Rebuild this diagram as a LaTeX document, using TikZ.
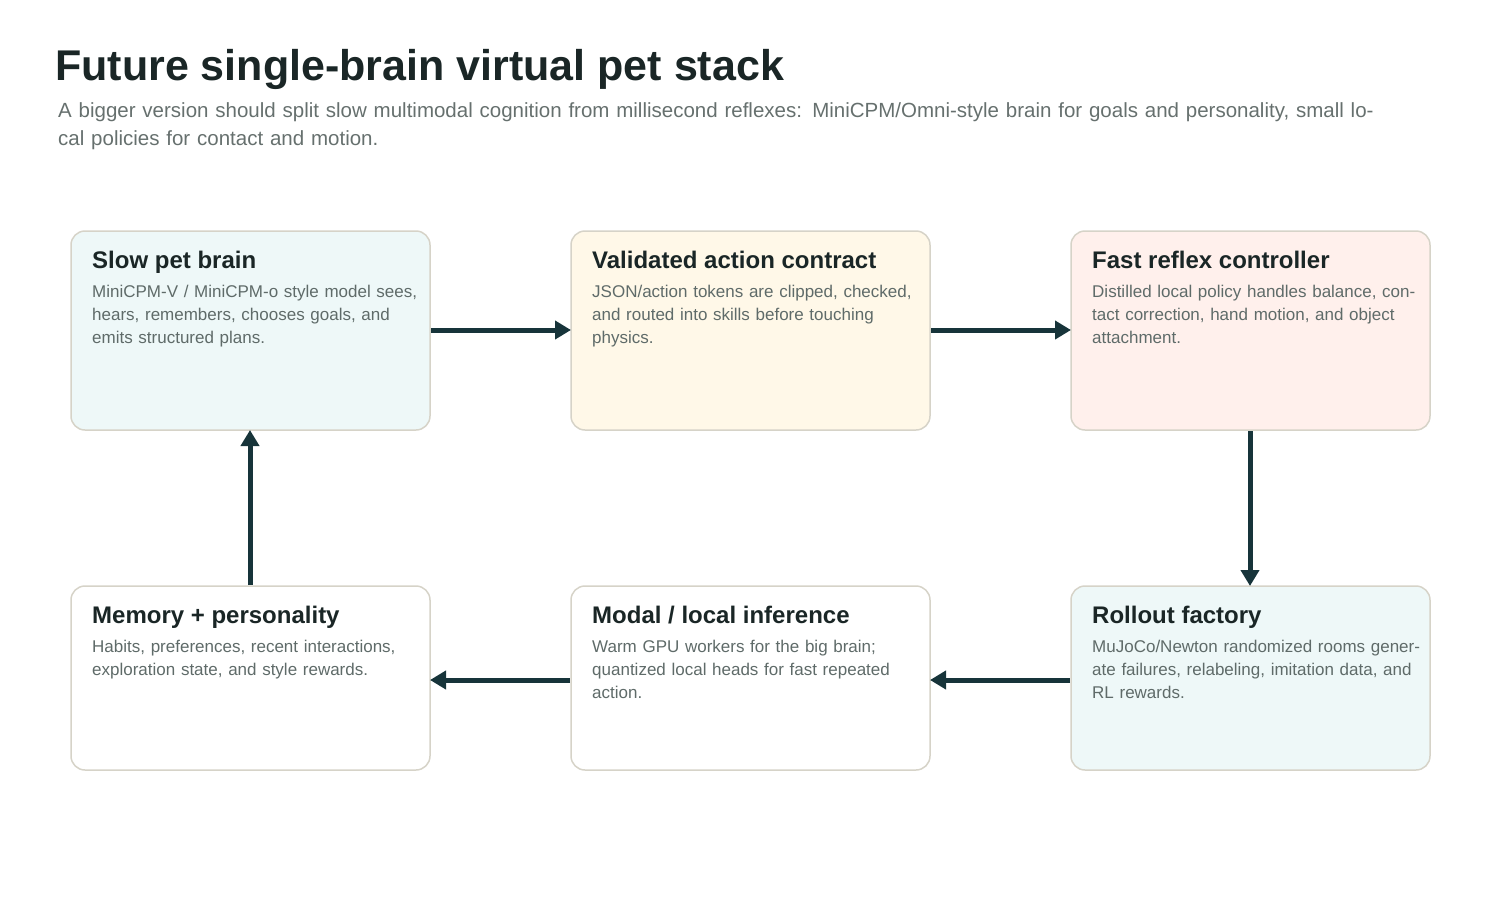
\documentclass[tikz,border=0pt]{standalone}
\usepackage{fontspec}
\setmainfont{Liberation Sans}
\usetikzlibrary{arrows.meta}
\definecolor{ink}{HTML}{1A2626}
\definecolor{sub}{HTML}{66706E}
\definecolor{body}{HTML}{5F6B69}
\definecolor{edge}{HTML}{D6D3C8}
\definecolor{arr}{HTML}{17343A}
\definecolor{fteal}{HTML}{EEF8F8}
\definecolor{fcream}{HTML}{FFF8E8}
\definecolor{frose}{HTML}{FFF0EC}
\begin{document}
\begin{tikzpicture}[x=1pt,y=-1pt,
 box/.style={draw=edge,line width=1.5pt,rounded corners=14pt},
 head/.style={anchor=north west,inner sep=0pt,font=\fontsize{24}{28}\selectfont\bfseries,text=ink},
 txt/.style={anchor=north west,inner sep=0pt,text width=330pt,align=left,font=\fontsize{17}{23}\selectfont,text=body},
 con/.style={draw=arr,line width=5pt,-{Triangle[length=16pt,width=18pt]}}]
\useasboundingbox (0,0) rectangle (1500,900);
\node[anchor=base west,inner sep=0pt,font=\fontsize{43}{50}\selectfont\bfseries,text=ink] (title) at (55,80) {Future single-brain virtual pet stack};
\node[anchor=north west,inner sep=0pt,text width=1330pt,align=left,font=\fontsize{20.5}{28}\selectfont,text=sub] (subt) at (58,102) {A bigger version should split slow multimodal cognition from millisecond reflexes: MiniCPM/Omni-style brain for goals and personality, small local policies for contact and motion.};
% boxes
\draw[box,fill=fteal] (71,231) rectangle (430,430); \coordinate (b1) at (250,330);
\draw[box,fill=fcream] (571,231) rectangle (930,430);
\draw[box,fill=frose] (1071,231) rectangle (1430,430);
\draw[box,fill=white] (71,586) rectangle (430,770);
\draw[box,fill=white] (571,586) rectangle (930,770);
\draw[box,fill=fteal] (1071,586) rectangle (1430,770);
\node[head] (h1) at (92,251) {Slow pet brain};
\node[txt] (t1) at (92,285) {MiniCPM-V / MiniCPM-o style model sees, hears, remembers, chooses goals, and emits structured plans.};
\node[head] (h2) at (592,251) {Validated action contract};
\node[txt] (t2) at (592,285) {JSON/action tokens are clipped, checked, and routed into skills before touching physics.};
\node[head] (h3) at (1092,251) {Fast reflex controller};
\node[txt] (t3) at (1092,285) {Distilled local policy handles balance, contact correction, hand motion, and object attachment.};
\node[head] (h4) at (92,606) {Memory + personality};
\node[txt] (t4) at (92,640) {Habits, preferences, recent interactions, exploration state, and style rewards.};
\node[head] (h5) at (592,606) {Modal / local inference};
\node[txt] (t5) at (592,640) {Warm GPU workers for the big brain; quantized local heads for fast repeated action.};
\node[head] (h6) at (1092,606) {Rollout factory};
\node[txt] (t6) at (1092,640) {MuJoCo/Newton randomized rooms generate failures, relabeling, imitation data, and RL rewards.};
\coordinate (a1) at (431,330); \coordinate (a2) at (571,330);
\coordinate (a3) at (931,330); \coordinate (a4) at (1071,330);
\coordinate (a5) at (1250,431); \coordinate (a6) at (1250,586);
\coordinate (a7) at (1070,680); \coordinate (a8) at (930,680);
\coordinate (a9) at (570,680); \coordinate (a10) at (430,680);
\coordinate (a11) at (250,585); \coordinate (a12) at (250,430);
\draw[con] (a1) -- (a2);
\draw[con] (a3) -- (a4);
\draw[con] (a5) -- (a6);
\draw[con] (a7) -- (a8);
\draw[con] (a9) -- (a10);
\draw[con] (a11) -- (a12);
\end{tikzpicture}
\end{document}
